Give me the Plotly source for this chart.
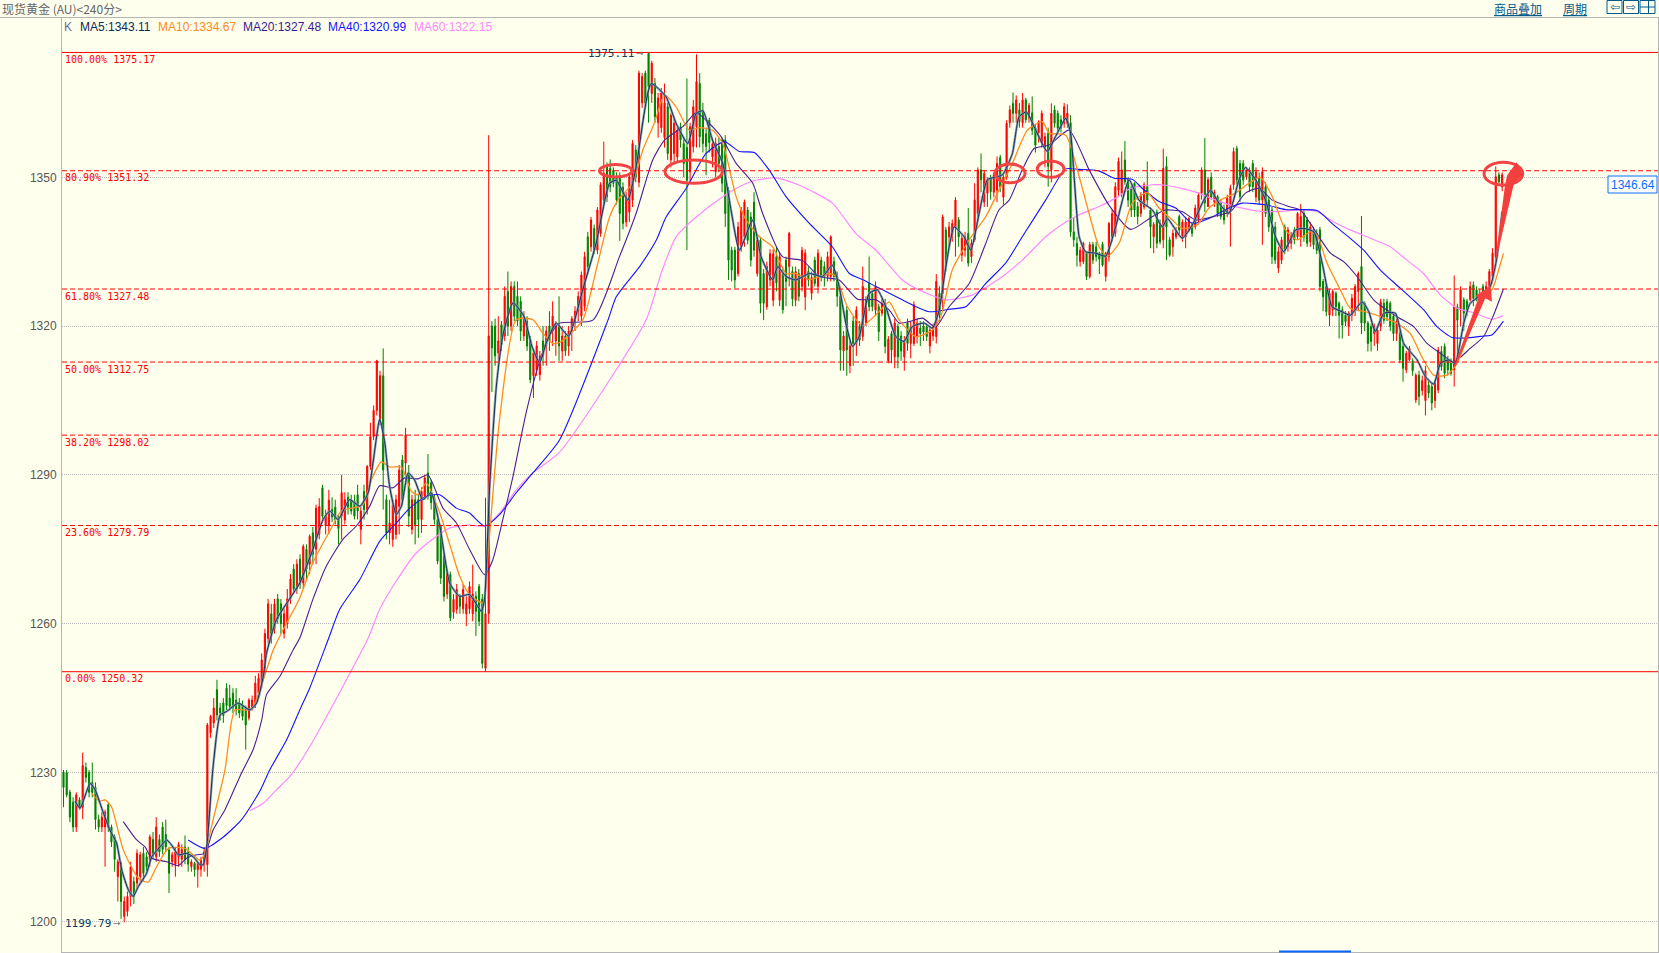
import plotly.graph_objects as go

opens = [
1230,1230,1226,1224,1219,1224.5,1223,1231,1230,1228,
1227,1220.5,1219,1219,1223.5,1219,1217,1209,1211.7,1201,
1202,1205,1208,1207.7,1209,1213.7,1213,1212.4,1216.5,1213,
1216.5,1219,1217.5,1214.4,1212,1211.5,1213,1212.5,1215,1214,
1211,1211.7,1210.4,1210.5,1211.5,1211.4,1238,1240,1246.7,1243,1244,
1247,1245,1246,1244.6,1244,1243.6,1243,1241,1243,1244,
1246,1248,1251,1257,1262,1259,1265,1264,1258,1260,
1265,1271,1267,1273,1268.2,1275,1272,1278.3,1275,1278,
1287.4,1279.8,1279.8,1283,1283.5,1281.2,1281.7,1280.9,1285.5,1285,
1284.7,1286,1279,1286.7,1283,1291.7,1297.7,1303,1301,1310,
1285,1278.3,1277,1278,1283.7,1293,1292.4,1290,1279,1285,
1285,1281,1285.7,1290.4,1288.4,1285.4,1281,1279.6,1273.6,1266,
1269.9,1262.3,1262.9,1265.5,1263,1262,1263,1262,1265.5,1267.5,
1265,1251,1262,1320,1320,1314.6,1320.3,1318,1327,1320,
1328,1326,1325,1318,1321,1317.3,1310,1311.2,1310.2,1317,
1316,1320,1319,1317,1320,1315,1318,1316,1319,
1321,1323,1322,1324,1338,1336,1339.7,1335.3,1338.7,1345.4,
1352.1,1351.8,1351.4,1350,1350.1,1348,1341,1343,1345.4,1355.5,
1349,1365,1371,1375,1366.9,1368.9,1361,1360,1358,1364.2,
1353.5,1354.8,1354.1,1360.2,1356.8,1356,1351.1,1356.2,1360.2,1368.9,
1363.5,1358.8,1361.5,1354.1,1351.1,1356.2,1357.5,1357.5,1347.4,1335.3,
1335.3,1330.6,1336,1338,1343.4,1342,1345,1330.6,1337.3,1330.6,
1323.9,1329.3,1325.2,1334,1325.2,1330.6,1333.3,1332,1331,1325.2,
1330.6,1328,1325.9,1331,1326.6,1333.3,1328,1333.3,1332,1330,
1330,1333,1330,1326,1315,1323.2,1312,1321,1316.5,1319.9,
1317.9,1320.6,1328.6,1326.6,1323.2,1323.9,1322.6,1324.5,1313,1318.5,
1313.8,1319.9,1318,1313.8,1320.6,1316.5,1316.5,1317.9,1319.6,1320,
1319.9,1316,1318,1317.9,1326.6,1326.6,1339.4,1338,1338.4,1340,
1341.4,1334.3,1335.3,1338.7,1334,1337.4,1342.7,1351.5,1345,1346.8,
1349.8,1347,1347.4,1354,1346,1350,1361,1364.9,1362.9,1363.6,
1361,1365.6,1362,1363,1360,1359,1356.9,1356,1358.9,1351.5,
1363.6,1362.9,1361.6,1360.9,1360.9,1361,1339,1336.7,1333,1333,
1334.7,1330,1336.4,1336,1334.7,1336.5,1330,1334,1338,1338.7,
1347.4,1346.8,1353.5,1349.5,1347.9,1348.8,1344.1,1342.7,1344,1348.1,
1343.4,1338,1343,1340.7,1337.4,1352.2,1337.4,1336,1338,1342.1,
1338,1338,1339.4,1340.7,1340,1341.7,1346.8,1351.5,1344.1,1350,
1345,1346.1,1344.8,1343.8,1342.7,1343.4,1348.5,1355.8,1352.8,1352.8,
1350.1,1351,1352.8,1346,1350,1345.4,1348.1,1345.4,1343.4,1340,
1331.7,1333.3,1340,1336,1336.7,1339.4,1338,1338,1342.7,1341.4,
1337,1339,1338.7,1339.4,1329,1328,1322.2,1323.3,1326.6,1324.6,
1323.3,1322.2,1319.9,1322.2,1323.3,1327,1332,1324.6,1320.6,1319.9,
1318.5,1316.5,1319.9,1324.6,1324.9,1324.6,1322,1318.5,1318.5,1315.9,
1311.2,1313.2,1313,1305.1,1310.1,1307,1305,1308.1,1307.8,1305,
1307.1,1314.9,1315.9,1313.2,1312.5,1311.2,1323.9,1323.3,1325.3,1325,
1325.3,1328.3,1327.3,1325.3,1328,1326.6,1328,1330,1334,1350.5,1348.1,
]
closes = [
1227,1225.5,1221,1219,1225.5,1223,1231.4,1229,1226,1226,
1220.5,1219,1221,1222,1219,1216,1212.5,1212,1204,1204,
1205,1211,1205,1213.7,1213.4,1209.7,1211,1217,1213.5,1219,
1214,1214.5,1215,1209.7,1213.4,1214,1215.5,1214.5,1212.5,1211.5,
1212,1210.4,1211.7,1212.5,1214,1239.6,1241.3,1243,1241.6,1242,1241.5,
1243.5,1243.3,1243,1242.6,1242,1241.3,1239.6,1244.6,1244.6,1248,
1249,1252.7,1258,1264,1258,1264,1261,1260,1262,1265,
1269,1267,1272,1268,1275.6,1271,1277.6,1274,1283.3,1283.6,
1281.7,1281.7,1284.9,1281.5,1281,1279.2,1286.4,1285,1283.5,1282.7,
1281.7,1282.7,1282.7,1283,1291.7,1297.7,1303,1313,1310,1291,
1278.3,1280.3,1284,1285,1291,1285,1298,1281.7,1285,1280,
1281,1286.7,1289.4,1285.7,1284.4,1281,1272.6,1269.2,1265.5,1270,
1261.2,1264.9,1266.9,1263.5,1266.9,1264,1267.5,1266,1262.5,1260.5,
1252,1262,1318,1315.6,1314,1317,1316.3,1326,1320,1328,
1322,1321,1319,1322,1316,1309.2,1314.6,1316,1314,1314,
1319,1317,1322,1320,1316,1318,1315,1319,1321.5,
1323,1326,1330.3,1334,1332,1341.4,1335.3,1343.4,1348.5,1350.8,
1346.1,1348.1,1348.8,1345.4,1342.7,1340.7,1346.1,1350.1,1356.8,1350.1,
1371,1370.3,1365,1368.3,1373,1362.2,1366,1367,1365,1354.8,
1362.5,1360.9,1359.5,1357.5,1352.8,1349.4,1360.2,1364.2,1369.3,1358.2,
1356.8,1356.2,1357,1356.8,1356.8,1352.8,1348.8,1342.7,1333.3,1331.3,
1329.3,1340,1343.4,1345,1337.3,1333.3,1335.3,1337.3,1324.6,1324.6,
1332,1334.6,1334.6,1328.7,1334,1323.3,1329,1338.7,1325.5,1331,
1326,1335.3,1334.7,1329.3,1329.8,1328.6,1334.7,1330,1330,1334,
1338,1330,1326,1315.2,1318,1315.2,1316,1316.5,1323.2,1317.2,
1328,1325.3,1323.9,1323.9,1328,1318.9,1324.5,1315.9,1317.3,1315.2,
1320.6,1313.8,1315,1317,1316.5,1319.9,1324.3,1320.6,1318.5,1318.8,
1317.9,1319.2,1320,1329,1322.2,1342,1332,1340,1340.7,1345.4,
1338,1337.7,1338,1332.7,1336.7,1345.4,1351.5,1349.5,1350.8,1349.5,
1347.1,1350.5,1352.8,1348.1,1350,1360.9,1363.6,1362.9,1365.6,1361.2,
1365.6,1361.6,1364.5,1359.5,1356.5,1361.2,1362.9,1358.2,1352.2,1362.9,
1360.9,1359.9,1359.9,1364.2,1362.9,1339,1337.4,1334.3,1335.3,1336.7,
1330,1336.4,1333.3,1334,1333.5,1332.3,1334.7,1340.7,1342.7,1348.1,
1353.2,1351.5,1349.1,1345.4,1343.4,1343.4,1342.1,1346.4,1348.5,1345.4,
1340,1340.5,1336.7,1337,1351.8,1340,1334.3,1338.7,1339.4,1339.4,
1341,1341,1341.7,1338.7,1343.8,1346.4,1351.5,1344.8,1349.5,1346,
1347,1342.7,1342.1,1341.4,1345.8,1347.8,1355.2,1349.5,1346.1,1349.5,
1351.5,1348.1,1348.1,1351.1,1345.4,1351.1,1342.7,1340,1334,1333.3,
1335,1337.4,1335.3,1339.4,1338,1337.4,1342.7,1342.1,1338,1336.7,
1340,1336.4,1335.3,1328,1325.9,1322.9,1326.6,1327,1323.9,1322.2,
1320.2,1320.9,1322.6,1325.6,1328,1330.6,1320.6,1320.6,1316.5,1316.9,
1319.9,1319.2,1324.9,1321.2,1321.9,1319.9,1318.5,1321,1313.2,1311.5,
1314.5,1315.5,1311,1310.1,1305.8,1309,1311,1306.5,1304.5,1308.5,
1315.2,1311.8,1310.5,1311.2,1310.5,1323.9,1321.2,1327.3,1322.6,1323.3,
1328,1325.6,1325.3,1326.6,1326.6,1328,1331,1334.7,1350.1,1349.1,1350.5,
]
highs = [
1230.5,1230.5,1226.5,1225,1226,1225,1234,1232,1230.5,1232,
1228,1221.5,1222,1222.5,1224,1219.5,1217.5,1212.5,1212,1205,
1206,1212,1209,1214.5,1214,1215,1214,1217.5,1218,1221,
1217.5,1220,1220.5,1215,1214,1215,1216,1215.5,1217.3,1215,
1212.5,1212,1212,1213,1215,1240,1241.6,1245,1248.7,1244,1245,
1248,1247.7,1247,1247,1245,1244.5,1243.5,1245,1245.5,1249.5,
1250,1254,1259,1265,1264,1265,1266,1265,1263,1267,
1270,1272,1273,1274,1276,1276,1278,1279.5,1284,1285.3,
1288,1283,1287,1285.5,1285,1282,1290,1286.5,1286.5,1286,
1286,1288,1283.5,1288,1292,1300.5,1304,1313.2,1311,1315.5,
1286,1285,1285,1286,1292,1294,1299.5,1292,1286,1287,
1286,1287.5,1290,1294.2,1289,1286,1282,1280,1274.5,1271,
1270.5,1266,1268,1266,1268,1265.5,1268.5,1271.9,1266.5,1268,
1266,1285.4,1358.5,1321,1321.5,1322,1321,1328,1331,1329,
1329,1329,1326,1323,1322,1318,1315,1317,1315,1320,
1320,1323,1325,1321,1326,1320,1319,1320,1322,
1324,1327,1331,1335,1339,1342,1340.5,1344,1349,1357.2,
1353,1353.6,1352,1351,1351,1349,1347,1351,1357.5,1356.5,
1371.5,1371,1371.5,1375.11,1373.5,1370,1367,1368,1368.9,1365,
1363,1362,1360,1361,1358,1369.9,1361,1365.6,1374.8,1371,
1365,1360,1362,1358,1358,1358,1358,1358.5,1348,1336,
1336,1341,1344,1345.5,1344,1343,1347,1338,1338,1331.5,
1333,1335.5,1335.5,1336,1335,1332,1334,1339,1332,1332,
1331.5,1336,1335.5,1332,1331,1334,1335.5,1334,1333,1335,
1338.3,1334,1331,1327,1319,1324,1317,1322,1324,1321,
1332,1326,1334,1327,1329,1324.5,1325.5,1325.5,1318,1319,
1321.5,1320.5,1319,1318,1321.5,1321,1325,1321.5,1321,1321,
1320.5,1320,1320.5,1330.5,1328,1342.5,1340,1341,1341.5,1346,
1342,1338.5,1339,1343.8,1337.5,1348.8,1352,1354.8,1351.5,1350,
1350.5,1351,1354.2,1354.5,1351,1361.5,1364.5,1367.1,1366.5,1365,
1367,1366,1365,1366.3,1360.5,1361.5,1363.5,1359,1360,1364.9,
1364.5,1363.5,1362.5,1365,1364.7,1362.5,1342,1338,1336,1337,
1335,1337,1337,1337,1335,1337,1335,1341,1343.5,1349,
1354,1355.2,1357.3,1350,1348.5,1349,1345,1347,1349,1353.2,
1344,1341,1343.5,1341.5,1355.8,1354.2,1338,1339.5,1340,1342.5,
1341.5,1342,1342,1341,1344.5,1347,1352,1357.9,1350,1351,
1347.5,1346.5,1345.5,1344.5,1346.5,1348.5,1356,1356.3,1353.5,1353.5,
1352,1352,1353.5,1352,1351,1352,1349,1346,1344,1341,
1336,1338,1340.5,1340,1339,1340,1343,1344.6,1343.5,1342,
1341,1340,1339.5,1340,1329.5,1328.5,1327.5,1327.5,1327,1325,
1324,1323,1323,1326.5,1328.5,1331,1342.2,1325,1321,1320.5,
1320.5,1319.5,1325.5,1325.5,1325.5,1325,1322.5,1321.5,1319,1316.5,
1315,1316,1313.5,1310.5,1311,1310,1312,1309,1308.5,1309,
1315.8,1316,1316.5,1314,1313.5,1330.2,1324.5,1328,1325.8,1325.5,
1329,1329,1328,1327.5,1328.5,1329,1331.5,1335.7,1352.2,1351,1351,
]
lows = [
1223,1225,1220,1218,1218,1222.5,1220.6,1228,1225,1225,
1218.5,1218,1218,1211,1218,1215,1210,1204,1200.5,1199.8,
1201,1203,1203.5,1206.5,1208,1208,1210,1211,1212.5,1212,
1213,1213.5,1214,1205.7,1211,1209,1211,1211,1211.5,1210,
1210,1209,1206.8,1209,1210,1209,1237,1239,1240.5,1240.5,1240,
1242.5,1242.5,1242,1241.5,1241,1240.5,1234.6,1240.5,1242.5,1243,
1245,1247,1250,1256,1256,1258,1260,1258,1257,1259,
1264,1266,1266,1267,1267,1269,1270,1272,1272,1277,
1281,1278,1278,1280.5,1280,1276,1277,1280,1282,1282,
1281,1281,1276,1281,1282,1291,1297,1302,1300,1283,
1277,1276,1275.5,1277,1278,1284,1288,1279.5,1278,1276,
1277.3,1278.3,1285,1285,1283,1280,1272,1268,1264.5,1265,
1260.5,1261,1262,1262,1262,1259.5,1262,1260.5,1257.5,1259.5,
1251,1250.32,1260,1306.7,1312,1313,1315,1317,1318,1319,
1321,1320,1317,1317,1315,1308.5,1305.5,1310,1309,1312,
1312,1315,1316,1314,1313,1313,1314,1314,1315,
1319,1321,1320,1323,1331,1335,1334.5,1334.5,1338,1344.5,
1345,1347,1348,1344.5,1337.2,1339.5,1340,1341,1344,1349,
1348,1364,1364,1361,1365,1361,1358,1359,1356,1353.5,
1352,1353,1353,1356,1350,1335.3,1349,1355,1356,1356,
1355,1350.4,1355,1352,1350,1351,1347,1340,1329.3,1329,
1327.6,1330,1335,1336,1336.5,1332,1334,1330,1322.6,1321.2,
1323.3,1328,1324,1327,1324,1322.5,1324,1328,1324,1324,
1325,1327,1323.2,1328,1325.3,1328,1326.6,1329,1328,1329,
1329,1329,1323.9,1311,1311,1310,1310.5,1312,1314,1316,
1317,1320,1323,1323,1322,1317,1322,1314.5,1312.5,1312.5,
1311.5,1311.5,1313,1311,1315,1313.5,1316,1316.5,1316,1317,
1317,1314.5,1317,1316.5,1321,1323,1331,1336,1337,1334,
1336,1333,1334,1332,1332.7,1337,1341,1347,1344,1344,
1345.5,1346,1345,1347,1344.5,1349.5,1360,1361,1361,1360,
1360,1361,1361,1358.5,1355,1357,1356,1352,1348.1,1349,
1360,1359,1359,1360,1360,1338,1336,1332,1332,1332.5,
1329.3,1329.6,1332.5,1333,1330.5,1332,1329,1333,1337,1338,
1346,1346,1348.5,1344,1342,1342,1340.5,1342,1343.5,1344,
1335.7,1334.7,1335.7,1336.5,1335.7,1333.3,1334,1334,1337.5,1338.5,
1337,1335.7,1339,1338,1339.5,1340.5,1345.5,1343,1344,1345.5,
1344,1342,1341.5,1340.5,1342,1336,1347.5,1348.5,1345,1348.5,
1349.5,1347,1347,1345,1344.5,1336.4,1342,1339,1332.5,1332.5,
1330.7,1332.5,1334.5,1335,1335.5,1336.5,1337.5,1336,1337,1336,
1336,1335.5,1334.5,1327,1323,1322,1320,1322,1322,1317.5,
1317.5,1320,1318,1321,1322,1323,1318.4,1319,1314.9,1314.9,
1316,1315,1319,1320.5,1321,1319,1317,1317,1312.5,1308.8,
1310.5,1313,1310,1304.5,1304,1306,1302,1305.5,1303,1303.5,
1306.5,1311,1309.5,1310,1310,1307.8,1314,1320,1319,1322,
1325,1324,1325,1325,1326,1325.5,1327.5,1329.5,1333.5,1348.5,1347.2,
]

ma5_x = [3.6,5.2,8.3,9.9,12.5,14.5,16.6,18.2,20.3,21.8,23.4,26,27.6,30.2,32.3,33.8,35.9,38.5,40.6,42.7,43.7,44.8,46.8,49,51,54.7,58.3,60.4,62.5,63.5,66.6,73.9,78,81.2,83.3,85.9,89.5,92.7,95.3,98.9,100.5,102,104.1,105.7,107.8,109.8,112.4,115,117.7,120.8,123.9,127,130.7,131.7,133.3,135.4,137.4,140.6,144,146.5,148.9,151,154.1,158,162.4,166.6,170.8,172.9,176.5,179.1,183.8,188.5,191.6,195.3,197.9,200,203,206.2,208.8,211.4,215.6,218.2,221.8,223.4,226,229,233.3,237.4,240.5,242.6,244.7,246.8,248.9,252,254.6,257.2,260.3,262.9,265.5,269.2,271.8,273.9,276,278.6,281.7,283.8,286.4,289,293.7,296.8,298.9,301.2,304.1,307.7,310.3,313.5,315,317.7,319.7,322.9,326,329.1,333.3,336.4,340.6,343.7,345.3,349.9,353.1,356.2,358.8,361.4,364.5,367.7,369.7,372.9,376,379.1,381.7,385.4,388,391.1,393.7,396.8,399.9,402.5,406.2,408.3,410.3,413,416.6,419.2,423.4,426,428.6,430.7,433.3,435.3,438,440,444.2,446.3,448.4,450]
ma5_y = [1224.2,1222.8,1227.8,1226.5,1221.8,1218.4,1215.8,1210.4,1206.3,1205,1207,1209.7,1213,1215,1216.4,1215.4,1213.4,1213.7,1213,1211.4,1211.4,1215,1231.2,1241.6,1242.3,1244,1242.6,1244,1249.4,1254,1260.8,1268.2,1275,1281,1282.7,1281,1285,1283.7,1286.4,1301.2,1296.5,1287.7,1282,1283.7,1290.4,1289,1285,1286.4,1279.7,1268.2,1265.5,1265.9,1262.5,1264.9,1287.7,1307.9,1318,1324.7,1322,1316,1312.6,1316.6,1320.6,1318,1327.3,1336.7,1348.8,1349.4,1345.4,1352.1,1368.9,1366.2,1360.9,1356.8,1362.9,1363.4,1357.5,1352.8,1343.4,1335.3,1341.4,1334,1329.3,1332,1330,1329.3,1330.6,1330,1332.3,1328,1320.6,1315.9,1317.9,1326.6,1327.3,1323.9,1317.9,1316.9,1319.9,1320.6,1319.6,1323.2,1332,1340,1338,1335.3,1342.7,1349.5,1350.5,1354.8,1362.2,1363.2,1359.5,1355.2,1358.2,1361.9,1358.9,1338,1335,1334.7,1334.1,1340,1349.5,1345.4,1343.4,1340,1341.7,1337.7,1340.4,1344.8,1347.4,1344.8,1342.7,1349.5,1352,1349.5,1345.4,1338,1335,1339.4,1339.7,1339,1332.7,1323.9,1322.9,1322.2,1324.9,1322.9,1318.9,1322.6,1322.6,1316.5,1313.2,1309.8,1308.3,1312.5,1313.2,1312.5,1320.6,1324.6,1326.6,1328,1334,1343.11]

ma10_x = [8.8,11.4,13,15,18.7,23.4,26.5,29.1,32.8,38,42.7,44.2,46.8,50.5,53.6,57.3,59.3,62.5,65.6,68.7,73.9,78,83.8,86.9,93.7,96.3,99.4,102,105.7,108.8,110.9,113.5,117.7,120.8,123.9,127,131.2,132.8,136.4,141.6,146.8,149.9,153,155.2,162.4,166.6,170.8,173.4,178,181.2,184.8,188,191.6,195.8,198.9,203,206.2,210.4,213.5,217.7,221.8,226,229,233.3,239.5,241.6,245.2,249.9,254.6,258.3,261.4,266.6,271.8,274.4,278,283.3,288.5,292.6,296.8,301.5,306.2,308.3,313.5,317.7,320.8,323.9,326.5,330.2,334.3,339,342.7,346.8,349.9,354.6,358.3,362.4,366.6,370.8,374.4,378.1,382.2,385.9,390,392.1,395.2,399.4,402.5,407.2,411.9,417.1,421.3,424.9,428.6,432.7,435.9,439,443.2,446.8,448.9,450.4]
ma10_y = [1225.8,1224.2,1224.5,1223.1,1214.4,1208.7,1207.9,1211,1214.7,1214.7,1212.3,1213.7,1220.5,1230.5,1242.6,1242.6,1243.3,1248.7,1254.7,1258.8,1265.2,1272.3,1279.3,1282.7,1284,1289,1292.6,1291.6,1291.6,1286.7,1286,1288.4,1282.3,1276,1269.6,1265.9,1264.2,1274.3,1301.2,1321.3,1321.3,1318.6,1316.5,1316.7,1321.2,1331.3,1342,1345.4,1348.8,1355.5,1360.9,1366.6,1364.2,1359.5,1360,1359.5,1356.8,1346.1,1341.4,1338,1336,1330.6,1330.6,1329.4,1330.6,1330,1323.9,1320.1,1322.6,1324.9,1321.2,1317.9,1319.2,1321.9,1331.3,1337.4,1342.1,1347.4,1352.8,1359.5,1361.2,1358.9,1358.5,1350.1,1342.7,1336,1334.1,1336.7,1344.8,1346.9,1343.8,1341.4,1339.7,1340.4,1343.8,1345.6,1346.8,1348.8,1350,1346.1,1339.4,1337.4,1339,1338.4,1332.7,1327.3,1323.6,1322.9,1321.9,1320.6,1318.5,1313.8,1310.1,1310.1,1312.5,1317.5,1325.6,1327.3,1331.3,1334.67]

ma20_x = [18.7,22.9,25.5,27.6,32.3,35.9,38.5,41.6,44.2,46.8,50.5,55.7,59.3,62,63.5,67.7,71.8,73.9,78,82.2,87.4,91.6,95.8,98.9,103,106.7,110.9,114,118.7,122.9,127,131.7,134.3,137.4,140.6,144.7,148.9,152,155.2,165.6,173.9,179.1,184.3,188,193.7,197.9,201,205.7,210.4,215.6,218.7,224.9,231.2,236.4,242.6,248.4,254.1,258.3,261.4,264.5,268.7,272.8,277,283.3,288.5,292.6,295.8,299.9,303.6,308.3,314.5,320.8,327,333.8,340.6,344.7,349.9,354.1,360.4,365.1,369.7,373.9,378.1,383.3,386.9,390,396.3,400.4,404.6,409.8,417.1,422.3,426.5,430.7,434.8,440,444.2,447.3,450.4]
ma20_y = [1220.1,1216.4,1215,1212.7,1212,1211.2,1212.7,1213.4,1213.7,1218.4,1222.5,1229.9,1234.6,1240.6,1245.7,1249.4,1254.7,1257.1,1264.9,1271.6,1277,1279.7,1283.7,1287.8,1287.4,1289.4,1289.2,1290,1283.3,1280.3,1275,1269.9,1272.9,1281,1289.7,1302.5,1312.9,1318,1320.6,1321.2,1334,1342.7,1353.5,1357.5,1360.2,1363,1361.5,1358.2,1352.8,1348.8,1342.7,1334,1333.2,1330,1329.3,1325.4,1325.3,1323.2,1320.6,1320.9,1321.6,1319.8,1323.9,1328.6,1336.7,1343.4,1345.4,1351.5,1355.8,1356.5,1359.5,1351.5,1344.4,1339.5,1342.1,1343.4,1343.1,1341.4,1342.2,1343.1,1346.8,1347.8,1345.4,1344.1,1343.4,1340.7,1334.7,1333,1330,1325.3,1321.9,1319.9,1316.5,1314.5,1312.8,1315.5,1317.9,1322.2,1327.48]

ma40_x = [39,44.2,50,55.7,61.4,64.5,69.8,73.9,77,82.8,86.4,92.7,98.9,104.1,108.3,113.5,117.7,122.9,127,131.7,136.4,141.6,146.8,155.2,170.3,172.9,180.2,185.4,188.5,194.7,201,206.7,211.4,216.1,220.8,226,233.3,240.5,245.8,249.9,254.1,261.4,270.8,277,282.2,288.5,294.7,299.9,307.2,313.5,317.6,323.9,328.6,334.3,337.4,342.7,347.9,353.1,358.3,364.5,368.7,376.5,382.2,392.1,397.3,402.5,406.7,411.9,418.2,425.4,429.6,434.3,438.5,444.2,446.8,450.4]
ma40_y = [1216.4,1214.7,1217,1220.5,1226.2,1230.5,1236.6,1242.6,1247,1256.8,1262.9,1268.9,1276.6,1280.3,1283.3,1285.7,1286,1283.3,1282.3,1279.7,1282,1286.4,1290.4,1297.1,1321.2,1325.9,1332,1337.3,1342,1347.7,1354.8,1357.2,1355.2,1355,1351.4,1346.1,1340.7,1336,1330.6,1329.4,1328,1325.6,1322.9,1323.4,1323.9,1328.6,1332.7,1338,1345.4,1351.7,1351.6,1351.3,1349.8,1349.6,1347.8,1345.1,1343.8,1340.7,1341.7,1343.8,1344.8,1344.4,1343.5,1343.3,1340.4,1337.7,1335.3,1331.3,1327.6,1323.3,1319.9,1317.7,1317.6,1318,1318.2,1320.99]

ma60_x = [58.3,62.5,66.6,70.8,77,95.3,98.9,104.1,110.4,116.6,120.8,127,131.7,136.4,141.6,146.8,155.2,182.2,186.9,191.6,197.9,206.2,211.4,216.6,222.9,230.2,240.5,247.8,254.1,262.4,267.6,276,284.3,293.7,299.9,307.2,313.5,317.6,323.9,329.1,333.8,340.6,345.8,354.1,360.4,366.6,375,382.2,387.4,392.1,397.3,402.5,408.8,415,420.2,425.4,430.6,435.9,441.1,446.8,450.4]
ma60_y = [1222.3,1223.8,1226.5,1229.2,1235.2,1257.1,1262.9,1268.6,1274.3,1277.6,1279.3,1279.9,1279.7,1282.3,1287,1290.4,1294.6,1321.2,1330.6,1338,1342,1346.1,1348.1,1349.4,1349.9,1348.4,1344.8,1338.7,1335.3,1329.3,1327.3,1325.3,1326.3,1330,1333.3,1338,1341,1342.4,1344.1,1345.8,1347.8,1348.5,1348.3,1347,1345.4,1344.1,1343.1,1343.2,1343.5,1343.1,1341,1339.4,1337.7,1336,1333.3,1330.6,1326.3,1323.6,1322.7,1321.4,1322.15]

fib_levels = [1375.17, 1351.32, 1327.48, 1312.75, 1298.02, 1279.79, 1250.32]
fib_labels = ["100.00% 1375.17", "80.90% 1351.32", "61.80% 1327.48", "50.00% 1312.75",
              "38.20% 1298.02", "23.60% 1279.79", "0.00% 1250.32"]
y_ticks = [1200, 1230, 1260, 1290, 1320, 1350]
legend_items = [("K", "#6a6a9a", 63), ("MA5:1343.11", "#0a2a5a", 79), ("MA10:1334.67", "#ff8a1e", 157),
                ("MA20:1327.48", "#3a1a8c", 242), ("MA40:1320.99", "#1414ff", 327), ("MA60:1322.15", "#ff88ff", 413)]

W, H = 1659, 953
L, R, T, B = 62, 1658, 18, 952
BG = "#FFFFEE"


def px(x):
    return (x - L) / (R - L)


def py(y):
    return (B - y) / (B - T)


def pts(points):
    return "M " + " L ".join(f"{px(x):.5f},{py(y):.5f}" for x, y in points) + " Z"


def z8(x, y):
    return (1300 + x / 3, 130 + y / 3)


fig = go.Figure()
idx = list(range(len(closes)))
fig.add_trace(go.Candlestick(
    x=idx, open=opens, high=highs, low=lows, close=closes,
    increasing=dict(line=dict(color="#FF0000", width=1), fillcolor="#FF0000"),
    decreasing=dict(line=dict(color="#008000", width=1), fillcolor="#008000"),
    whiskerwidth=0, showlegend=False, hoverinfo="skip"))


def line(x, y, color, width, smoothing=0.6, opacity=1):
    fig.add_trace(go.Scatter(x=x, y=y, mode="lines", opacity=opacity, showlegend=False, hoverinfo="skip",
                             line=dict(color=color, width=width, shape="spline", smoothing=smoothing)))


line(ma60_x, ma60_y, "#FF88FF", 1.2)
line(ma40_x, ma40_y, "#1414FF", 1.1)
line(ma20_x, ma20_y, "#4B1E96", 1.1)
line(ma10_x, ma10_y, "#FF8C1E", 1.3)
line(ma5_x, ma5_y, "#7F97AE", 2.4, 0.5, 0.85)
line(ma5_x, ma5_y, "#10305A", 1, 0.5)

shapes = []
anns = []
for lv, lb in zip(fib_levels, fib_labels):
    solid = lv in (1375.17, 1250.32)
    shapes.append(dict(type="line", xref="paper", yref="y", x0=0, x1=1, y0=lv, y1=lv,
                       line=dict(color="#FF0000", width=1, dash="solid" if solid else "5px,3px"), layer="above"))
    anns.append(dict(xref="paper", yref="y", x=px(63), y=lv, yshift=-7, text=lb, showarrow=False,
                     xanchor="left", yanchor="middle", font=dict(family="DejaVu Sans Mono", size=10, color="#FF0000")))

for x0, x1, y0, y1 in [(599.5, 632, 164.5, 177), (665, 722.3, 160, 183.3), (995, 1025, 164, 182.7),
                       (1037.3, 1064, 161, 177.3), (1484, 1522.7, 162.3, 185)]:
    shapes.append(dict(type="circle", xref="paper", yref="paper", x0=px(x0), x1=px(x1), y0=py(y0), y1=py(y1),
                       line=dict(color="#F24444", width=3), layer="above"))

arrow1 = [z8(463, 708), z8(535, 505), z8(527, 497), z8(572, 468), z8(576, 515), z8(556, 505), z8(466, 710)]
arrow2 = [z8(575, 480), z8(615, 165), z8(622, 135), z8(650, 97), z8(668, 135), z8(642, 160), z8(586, 400)]
for poly in (arrow1, arrow2):
    shapes.append(dict(type="path", xref="paper", yref="paper", path=pts(poly), fillcolor="#F43F3F",
                       line=dict(color="#F43F3F", width=0), layer="above"))

shapes.append(dict(type="line", xref="paper", yref="paper", x0=px(0), x1=px(W), y0=py(17.5), y1=py(17.5),
                   line=dict(color="#B5B5B5", width=1)))
shapes.append(dict(type="line", xref="paper", yref="paper", x0=px(1279), x1=px(1351), y0=py(951.5), y1=py(951.5),
                   line=dict(color="#0A64FF", width=2)))
shapes.append(dict(type="rect", xref="paper", yref="paper", x0=px(1608), x1=px(1657), y0=py(176), y1=py(193),
                   line=dict(color="#0A6CFF", width=1), fillcolor="#FFFFFF", layer="above"))

for x0, x1 in [(1607, 1622), (1623.5, 1638.5), (1640, 1655)]:
    shapes.append(dict(type="rect", xref="paper", yref="paper", x0=px(x0), x1=px(x1), y0=py(0.5), y1=py(13.5),
                       line=dict(color="#005A8C", width=1), fillcolor=BG))
shapes.append(dict(type="line", xref="paper", yref="paper", x0=px(1640), x1=px(1655), y0=py(7), y1=py(7),
                   line=dict(color="#005A8C", width=1)))
shapes.append(dict(type="line", xref="paper", yref="paper", x0=px(1648.5), x1=px(1648.5), y0=py(0.5), y1=py(13.5),
                   line=dict(color="#005A8C", width=1)))


def text(x, y, s, color, size, family, anchor="left"):
    anns.append(dict(xref="paper", yref="paper", x=px(x), y=py(y), text=s, showarrow=False, xanchor=anchor,
                     yanchor="middle", borderpad=0, font=dict(family=family, size=size, color=color)))


CJK = "Noto Sans CJK SC"
text(1, 9, "现货黄金 (AU)&lt;240分&gt;", "#666666", 12, CJK)
for s, c, x in legend_items:
    text(x, 27.5, s, c, 12, "Liberation Sans")
text(1493, 9, "<u>商品叠加</u>", "#005A8C", 12, CJK)
text(1562, 9, "<u>周期</u>", "#005A8C", 12, CJK)
text(1614.5, 7, "⇦", "#005A8C", 12, "DejaVu Sans", "center")
text(1631, 7, "⇨", "#005A8C", 12, "DejaVu Sans", "center")
text(1632.5, 184.5, "1346.64", "#0A6CFF", 12, "Liberation Sans", "center")
text(587, 53.5, "1375.11", "#123A5C", 11, "DejaVu Sans Mono")
text(635, 53, "→", "#777777", 9, "DejaVu Sans", "left")
text(63.5, 923, "1199.79", "#123A5C", 11, "DejaVu Sans Mono")
text(112, 923, "→", "#777777", 9, "DejaVu Sans", "left")

k = 3.197
fig.update_layout(
    width=W, height=H, autosize=False, paper_bgcolor=BG, plot_bgcolor=BG, showlegend=False,
    margin=dict(l=L, r=W - R, t=T, b=H - B, pad=0), boxgap=0.5, hovermode=False,
    font=dict(family="Liberation Sans", size=12),
    xaxis=dict(range=[(L - 63.5) / k, (R - 63.5) / k], showgrid=False, showticklabels=False, ticks="", zeroline=False,
               rangeslider=dict(visible=False), showline=True, linecolor="#B5B5B5", linewidth=1, mirror=True),
    yaxis=dict(range=[1200 - (B - 921.3) / 4.96, 1350 + (177.3 - T) / 4.96], tickmode="array", tickvals=y_ticks,
               ticktext=[str(v) for v in y_ticks], ticks="outside", ticklen=2, tickcolor=BG, showgrid=True,
               gridcolor="#B8B8B8", griddash="1px,1px", gridwidth=1, zeroline=False, showline=True,
               linecolor="#B5B5B5", linewidth=1, mirror=True, tickfont=dict(family="Liberation Sans", size=12, color="#555555")),
    shapes=shapes, annotations=anns)

assert len(opens) == len(closes) == len(highs) == len(lows)
fig.write_html("out.html", config={"displayModeBar": False},
               post_script="document.body.style.margin='0';document.body.style.background='#FFFFEE';")
